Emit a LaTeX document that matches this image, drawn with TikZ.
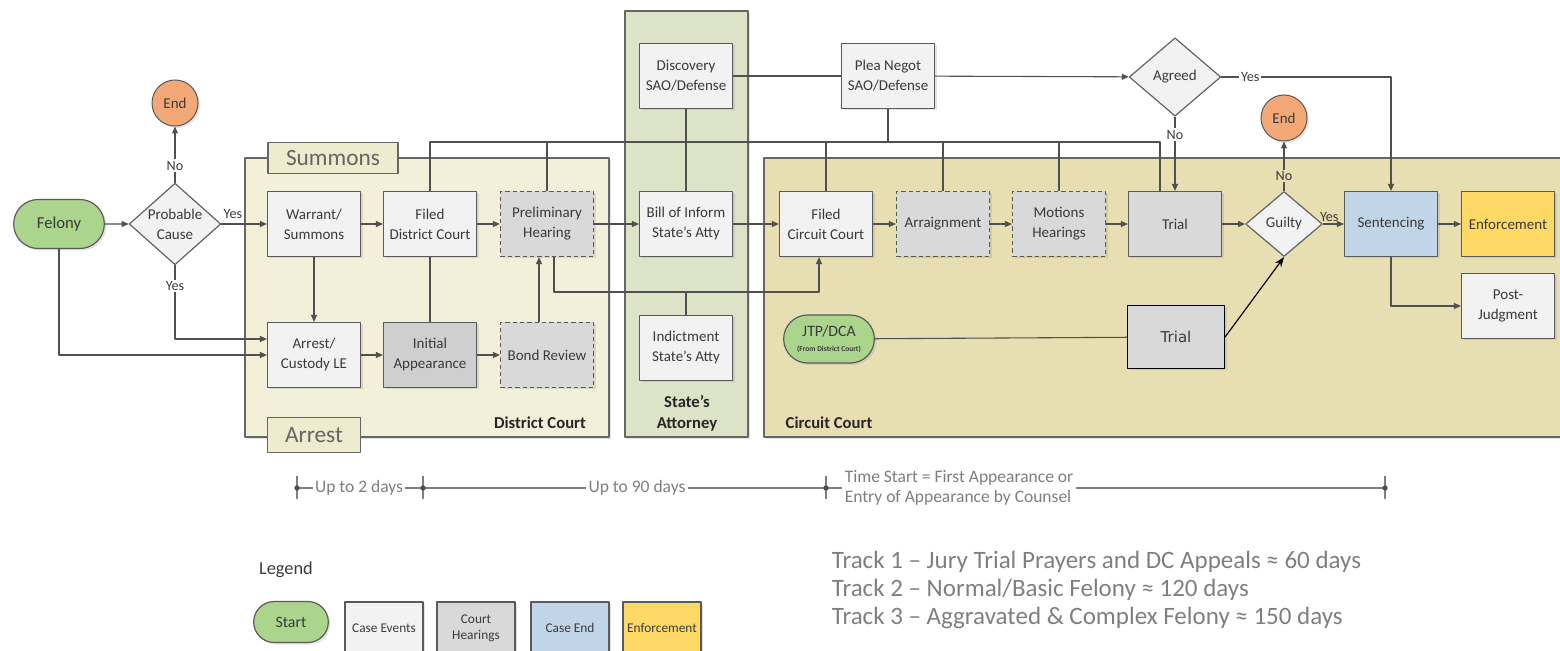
\documentclass[tikz,border=0pt]{standalone}
\usepackage{fontspec}
\setmainfont{Carlito}
\newfontfamily\trialfont{DejaVu Sans}
\usetikzlibrary{arrows.meta,shapes.geometric,shapes.misc,shadows}
\definecolor{linec}{HTML}{505050}
\definecolor{boxline}{HTML}{5A5A5A}
\definecolor{txt}{HTML}{3A3A3A}
\definecolor{greytxt}{HTML}{7F7F7F}
\definecolor{casefill}{HTML}{F2F2F2}
\definecolor{hearfill}{HTML}{D9D9D9}
\definecolor{initfill}{HTML}{CFCFCF}
\definecolor{startfill}{HTML}{ABD58C}
\definecolor{endfill}{HTML}{F2A977}
\definecolor{sentfill}{HTML}{C0D5E8}
\definecolor{enffill}{HTML}{FFD966}
\definecolor{distfill}{HTML}{F3F0D9}
\definecolor{statefill}{HTML}{DCE3C6}
\definecolor{circfill}{HTML}{E7DFB1}
\definecolor{tabfill}{HTML}{EEEBCF}
\tikzset{
  every picture/.style={line join=round, >={Triangle[length=4.2pt,width=3.6pt]}},
  conn/.style={draw=linec, line width=0.65pt},
  arr/.style={conn, ->},
  shad/.style={drop shadow={shadow xshift=1.2pt, shadow yshift=-1.2pt, opacity=0.22}},
  casebox/.style={rectangle, draw=boxline, line width=0.7pt, fill=casefill, minimum width=55.8pt,
    minimum height=39pt, inner sep=1pt, align=center, text=txt, font=\fontsize{9}{12}\selectfont, shad},
  hearbox/.style={casebox, fill=hearfill},
  dashbox/.style={hearbox, dash pattern=on 2.6pt off 1.8pt},
  decision/.style={diamond, draw=gray!75!black, line width=0.7pt, fill=casefill, inner sep=-2pt,
    align=center, text=txt, font=\fontsize{9}{12}\selectfont},
  startnode/.style={rounded rectangle, draw=gray!70!black, line width=0.7pt, fill=startfill,
    minimum width=56.4pt, minimum height=29.4pt, inner sep=1pt, align=center, text=txt,
    font=\fontsize{10}{12}\selectfont, shad},
  endnode/.style={circle, draw=gray!70!black, line width=0.6pt, fill=endfill, minimum size=27.6pt,
    inner sep=0pt, text=txt, font=\fontsize{9}{11}\selectfont, shad},
  panel/.style={draw=gray!80!black, line width=0.8pt, shad},
  tab/.style={draw=gray!80!black, line width=0.7pt, fill=tabfill, inner sep=0pt, text=greytxt!80!black,
    font=\fontsize{14}{16}\selectfont},
  paneltitle/.style={font=\bfseries\fontsize{10}{12.6}\selectfont, text=black!85, align=center},
  lbl/.style={font=\fontsize{8.5}{10}\selectfont, text=txt, inner sep=1pt},
  tline/.style={draw=greytxt, line width=0.8pt},
  tlabel/.style={font=\fontsize{10.5}{12}\selectfont, text=greytxt, fill=white, inner sep=1.5pt},
  legendbox/.style={casebox, minimum width=46.8pt, minimum height=31.2pt, font=\fontsize{8}{9.5}\selectfont},
}

\begin{document}
\begin{tikzpicture}[x=0.6pt,y=-0.6pt]
\useasboundingbox (0,0) rectangle (1560,651);

% court areas
\draw[panel,fill=distfill] (245,158) rectangle (609,437);
\draw[panel,fill=statefill] (625,11) rectangle (748,437);
\draw[panel,fill=circfill] (764,158) rectangle (1590,437);
\node[tab, minimum width=78pt, minimum height=18.6pt] (tabsum) at (333,158) {Summons};
\node[tab, minimum width=55.8pt, minimum height=21pt] (tabarr) at (314,435) {Arrest};
\node[paneltitle] (dclab) at (540,423) {District Court};
\node[paneltitle] (salab) at (687,413) {State’s\\Attorney};
\node[paneltitle] (cclab) at (829,423) {Circuit Court};

% nodes
\node[startnode] (felony) at (59,224) {Felony};
\node[decision, minimum width=55pt, minimum height=49pt] (pc) at (175,224) {Probable\\Cause};
\node[endnode] (endL) at (175,103) {End};
\node[casebox] (warrant) at (314,224) {Warrant/\\Summons};
\node[casebox] (arrest) at (314,355) {Arrest/\\Custody LE};
\node[casebox] (fdc) at (430,224) {Filed\\District Court};
\node[hearbox, fill=initfill] (initapp) at (430,355) {Initial\\Appearance};
\node[dashbox] (prelim) at (547,224) {Preliminary\\Hearing};
\node[dashbox] (bond) at (547,355) {Bond Review};
\node[casebox] (disc) at (686,76) {Discovery\\SAO/Defense};
\node[casebox] (bill) at (686,224) {Bill of Inform\\State’s Atty};
\node[casebox] (indict) at (686,348) {Indictment\\State’s Atty};
\node[casebox] (plea) at (888,76) {Plea Negot\\SAO/Defense};
\node[decision, minimum width=55pt, minimum height=47pt] (agreed) at (1175,77) {Agreed};
\node[casebox] (fcc) at (826,224) {Filed\\Circuit Court};
\node[dashbox] (arraign) at (943,224) {Arraignment};
\node[dashbox] (motions) at (1059,224) {Motions\\Hearings};
\node[hearbox] (trial) at (1175,224) {Trial};
\node[decision, minimum width=46pt, minimum height=39pt] (guilty) at (1284,224) {Guilty};
\node[endnode] (endR) at (1284,118) {End};
\node[casebox, fill=sentfill] (sent) at (1391,224) {Sentencing};
\node[casebox, fill=enffill] (enforce) at (1508,224) {Enforcement};
\node[casebox] (postj) at (1508,306) {Post-\\Judgment};
\node[startnode, minimum height=28.8pt, font=\fontsize{9.5}{10}\selectfont] (jtp) at (829,339)
  {JTP/DCA\\[-1pt]{\bfseries\fontsize{4.5}{5}\selectfont(From District Court)}};
\node[hearbox, draw=black, minimum width=58.2pt, minimum height=37.8pt, font=\trialfont\fontsize{9}{11}\selectfont] (trial2) at (1176,337) {Trial};

% connectors
\draw[arr] (felony) -- (pc);
\draw[arr] (pc.east) -- (warrant.west) node[lbl, pos=0, above right, yshift=2pt] {Yes};
\draw[arr] (pc.north) -- node[lbl, fill=white, pos=.3] {No} (endL.south);
\coordinate (yesA) at ([yshift=9.6pt]arrest.west);
\draw[arr] (pc.south) -- node[lbl, fill=white, pos=.28] {Yes} (pc.south |- yesA) -- (yesA);
\draw[arr] (felony.south) |- (arrest.west);
\draw[arr] (warrant) -- (fdc);
\draw[arr] (warrant) -- (arrest);
\draw[arr] (arrest) -- (initapp);
\draw[conn] (fdc) -- (initapp);
\draw[arr] (fdc) -- (prelim);
\draw[arr] (initapp) -- (bond);
\draw[arr] ([xshift=-4.8pt]bond.north) -- ([xshift=-4.8pt]prelim.south);
\draw[arr] (prelim) -- (bill);
\draw[arr] (bill) -- (fcc);
\coordinate (jn) at (686,292);
\draw[arr] ([xshift=4.2pt]prelim.south) |- (jn) -| ([xshift=-4.2pt]fcc.south);
\draw[conn] (indict) -- (jn);
\draw[conn] (disc) -- (bill);
\draw[conn] (disc) -- (plea);
\draw[arr] (plea) -- (agreed);
\coordinate (busL) at (430,142);
\coordinate (busR) at (1160,142);
\draw[conn] (fdc.north) -- (busL) -- (busR) -- (busR |- trial.north);
\foreach \n in {prelim,fcc,arraign,motions}
  \draw[conn] (\n.north |- busL) -- (\n.north);
\draw[conn] (plea) -- (plea.south |- busL);
\draw[arr] (agreed) -- node[lbl, fill=white, pos=.24] {No} (trial);
\draw[arr] (agreed.east) -- node[lbl, fill=white, pos=.17] {Yes} (agreed.east -| sent.north) -- (sent.north);
\draw[arr] (fcc) -- (arraign);
\draw[arr] (arraign) -- (motions);
\draw[arr] (motions) -- (trial);
\draw[arr] (trial) -- (guilty);
\draw[arr] (guilty) -- node[lbl, above, pos=.3] {Yes} (sent);
\draw[arr] (guilty) -- node[lbl, fill=circfill, pos=.3] {No} (endR);
\draw[arr] (sent) -- (enforce);
\draw[arr] (sent.south) |- (postj.west);
\draw[conn] (jtp) -- (trial2);
\draw[draw=black, line width=0.7pt, -{Stealth[length=6pt,width=4.5pt]}] (trial2.east) -- (guilty.south);

% time line
\coordinate (t1) at (297,488);
\coordinate (t2) at (423,488);
\coordinate (t3) at (826,488);
\coordinate (t4) at (1385,488);
\draw[tline] (t1) -- (t4);
\foreach \t in {t1,t2,t3,t4}{
  \draw[tline] ([yshift=6.9pt]\t) -- ([yshift=-6.9pt]\t);
  \fill[black!70] (\t) circle (1.6pt);
}
\node[tlabel] (d2) at (359,488) {Up to 2 days};
\node[tlabel] (d90) at (637,488) {Up to 90 days};
\node[tlabel, align=left, fill=white] (tstart) at (959,488) {Time Start = First Appearance or\\Entry of Appearance by Counsel};

% legend
\node[font=\fontsize{11}{13}\selectfont, text=txt] (lgtitle) at (286,570) {Legend};
\node[startnode, minimum width=46.8pt, minimum height=24.6pt, font=\fontsize{9.5}{11}\selectfont] (lgstart) at (291,622) {Start};
\node[legendbox] (lgcase) at (384,628) {Case Events};
\node[legendbox, fill=hearfill] (lghear) at (476,628) {Court\\Hearings};
\node[legendbox, fill=sentfill] (lgend) at (570,628) {Case End};
\node[legendbox, fill=enffill] (lgenf) at (662,628) {Enforcement};

% tracks
\node[anchor=west, align=left, text=greytxt, font=\fontsize{15}{16.8}\selectfont] (tracks) at (826,590)
  {Track 1 – Jury Trial Prayers and DC Appeals ≈ 60 days\\
   Track 2 – Normal/Basic Felony ≈ 120 days\\
   Track 3 – Aggravated \& Complex Felony ≈ 150 days};
\end{tikzpicture}
\end{document}
